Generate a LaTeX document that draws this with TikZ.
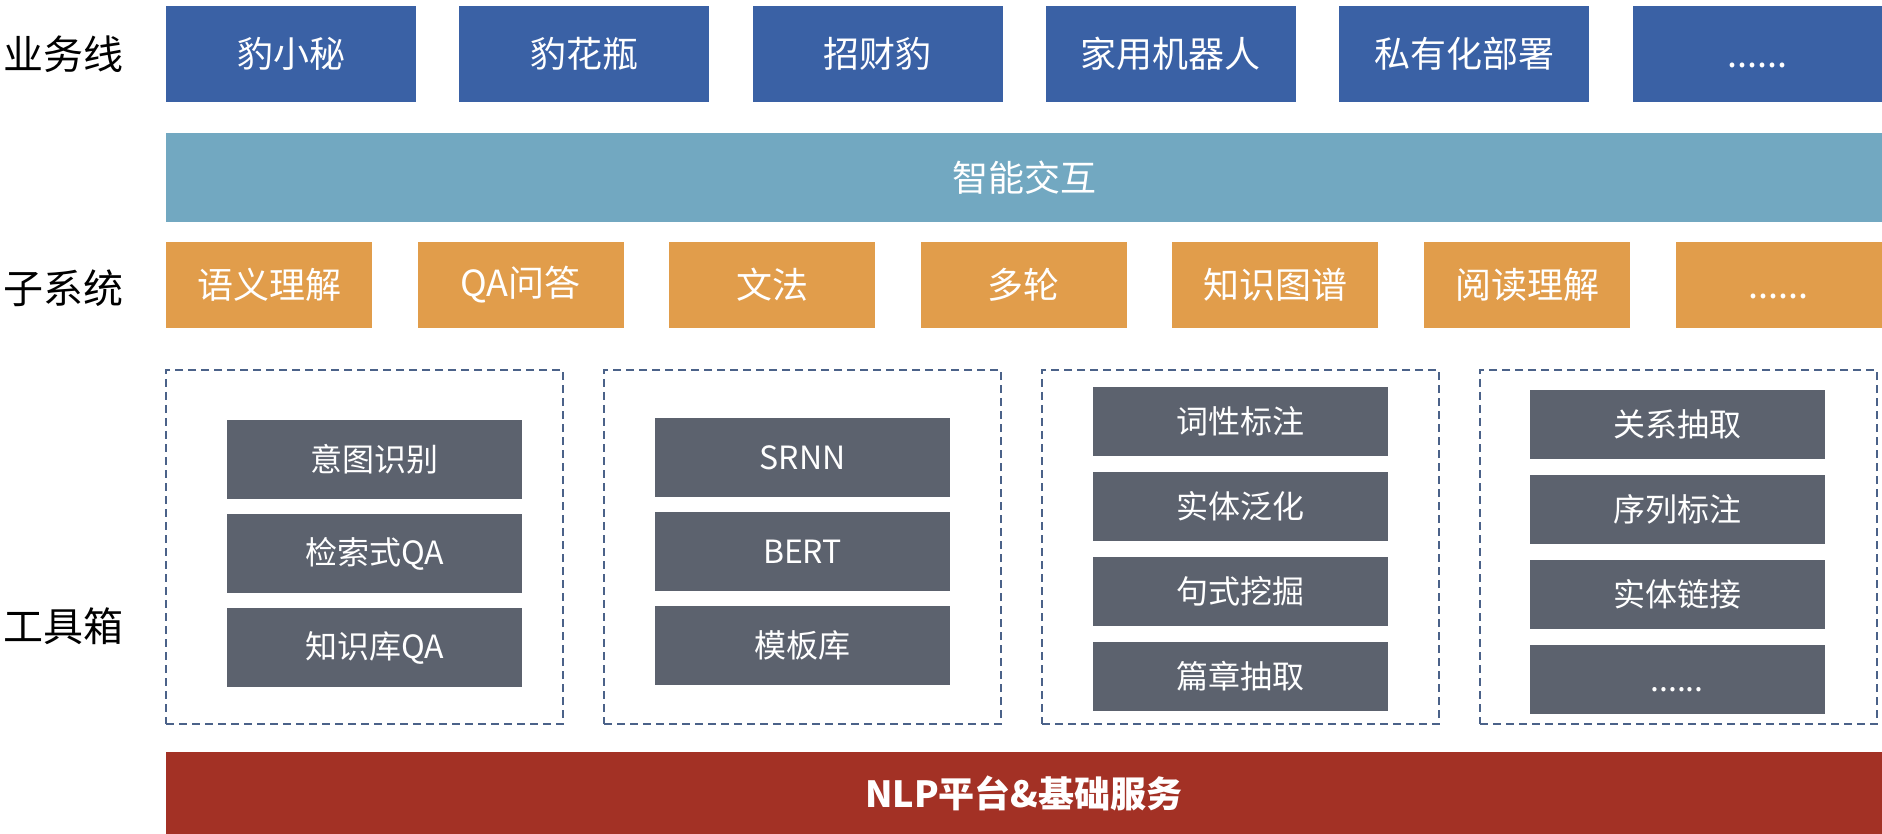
\documentclass[tikz,border=0pt]{standalone}
\usepackage{fontspec}
\setmainfont{Noto Sans CJK SC}
\usetikzlibrary{positioning}
\definecolor{bizblue}{HTML}{3A61A5}
\definecolor{iablue}{HTML}{72A8C1}
\definecolor{suborange}{HTML}{E19D4B}
\definecolor{toolgray}{HTML}{5C626E}
\definecolor{basered}{HTML}{A33125}
\definecolor{framedash}{HTML}{4B6289}
\newcommand{\moredots}{\vphantom{豹}......}

\begin{document}
\begin{tikzpicture}[
    x=0.5pt, y=-0.5pt,
    box/.style={rectangle, inner sep=0pt, outer sep=0pt, text=white},
    biz/.style={box, fill=bizblue, minimum width=125pt, minimum height=48pt, font=\fontsize{18pt}{20pt}\selectfont},
    subbox/.style={box, fill=suborange, minimum width=103pt, minimum height=43pt, font=\fontsize{18pt}{20pt}\selectfont},
    bar/.style={box, minimum width=858pt, font=\fontsize{18pt}{20pt}\selectfont},
    tool/.style={box, fill=toolgray, minimum width=147.5pt, minimum height=39.5pt, font=\fontsize{16pt}{18pt}\selectfont},
    toolsm/.style={tool, minimum height=34.5pt},
    toolframe/.style={rectangle, draw=framedash, line width=1pt, dash pattern=on 3.8pt off 2.7pt, minimum width=198.5pt, minimum height=177pt, outer sep=0pt},
    rowlabel/.style={anchor=west, inner sep=0pt, font=\fontsize{20pt}{22pt}\selectfont}
]
\useasboundingbox (0,0) rectangle (1882,834);

\node[rowlabel] (lbiz) at (3,54) {业务线};
\node[rowlabel] (lsub) at (3,288) {子系统};
\node[rowlabel] (ltool) at (3,626) {工具箱};

\node[biz] (b1) at (291,54) {豹小秘};
\node[biz, right=21.65pt of b1] (b2) {豹花瓶};
\node[biz, right=21.65pt of b2] (b3) {招财豹};
\node[biz, right=21.65pt of b3] (b4) {家用机器人};
\node[biz, right=21.65pt of b4] (b5) {私有化部署};
\node[biz, right=21.65pt of b5] (b6) {\moredots};

\node[bar, fill=iablue, minimum height=44.5pt] (ia) at (1024,177.5) {智能交互};

\node[subbox] (s1) at (269,285) {语义理解};
\node[subbox, right=22.8pt of s1] (s2) {QA问答};
\node[subbox, right=22.8pt of s2] (s3) {文法};
\node[subbox, right=22.8pt of s3] (s4) {多轮};
\node[subbox, right=22.8pt of s4] (s5) {知识图谱};
\node[subbox, right=22.8pt of s5] (s6) {阅读理解};
\node[subbox, right=22.8pt of s6] (s7) {\moredots};

\node[toolframe] (f1) at (364.5,547) {};
\node[toolframe, right=20.5pt of f1] (f2) {};
\node[toolframe, right=20.5pt of f2] (f3) {};
\node[toolframe, right=20.5pt of f3] (f4) {};

\node[tool] (t11) at (374.5,459.5) {意图识别};
\node[tool, below=7.5pt of t11] (t12) {检索式QA};
\node[tool, below=7.5pt of t12] (t13) {知识库QA};

\node[tool] (t21) at (802.5,457.5) {SRNN};
\node[tool, below=7.5pt of t21] (t22) {BERT};
\node[tool, below=7.5pt of t22] (t23) {模板库};

\node[toolsm] (t31) at (1240,421.5) {词性标注};
\node[toolsm, below=8pt of t31] (t32) {实体泛化};
\node[toolsm, below=8pt of t32] (t33) {句式挖掘};
\node[toolsm, below=8pt of t33] (t34) {篇章抽取};

\node[toolsm] (t41) at (1677,424) {关系抽取};
\node[toolsm, below=8pt of t41] (t42) {序列标注};
\node[toolsm, below=8pt of t42] (t43) {实体链接};
\node[toolsm, below=8pt of t43] (t44) {\moredots};

\node[bar, fill=basered, minimum height=41pt] (nlp) at (1024,793) {\bfseries NLP平台\&基础服务};
\end{tikzpicture}
\end{document}
